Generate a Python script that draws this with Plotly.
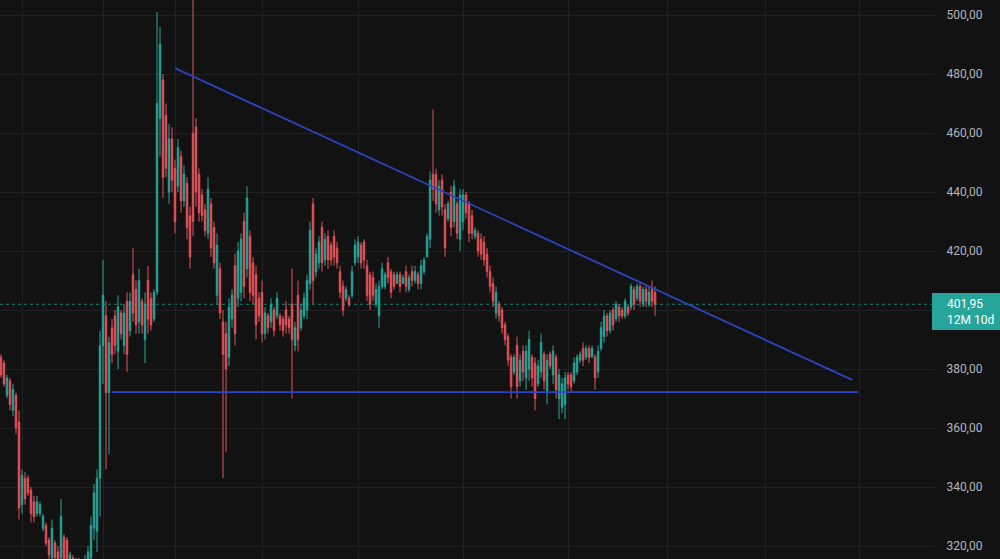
import plotly.graph_objects as go

# daily candles (left to right)
opens = [
    384, 382, 371, 376, 366, 371, 362, 334, 343, 343, 339, 335, 331, 331, 326, 327, 322, 316, 321, 318,
    316, 323, 322, 312, 316, 310, 315, 308, 311, 313, 316, 326, 325, 343, 388, 398, 372, 394, 398, 386,
    399, 388, 403, 393, 412, 407, 396, 403, 390, 410, 404, 397, 406, 465, 478, 466, 440, 458, 448, 442,
    452, 437, 443, 432, 460, 462, 446, 439, 434, 426, 436, 428, 405, 414, 396, 392, 384, 397, 415, 404,
    406, 430, 414, 425, 416, 412, 404, 406, 392, 398, 396, 400, 398, 398, 397, 400, 397, 402, 388, 405,
    394, 398, 400, 409, 436, 413, 416, 428, 417, 425, 422, 425, 421, 413, 408, 404, 404, 405, 416, 418,
    422, 423, 415, 412, 411, 402, 398, 408, 408, 416, 413, 412, 409, 412, 409, 413, 407, 413, 410, 412,
    409, 413, 418, 424, 446, 446, 434, 444, 434, 431, 440, 430, 436, 424, 430, 439, 436, 432, 425, 426,
    424, 423, 419, 413, 409, 399, 402, 400, 395, 391, 384, 379, 388, 376, 386, 377, 380, 384, 382, 375,
    379, 385, 372, 385, 378, 384, 370, 367, 368, 378, 378, 376, 379, 383, 387, 384, 387, 384, 384, 379,
    387, 391, 398, 393, 400, 397, 401, 400, 398, 401, 401, 407, 404, 408, 402, 407, 402, 407, 406,
]
highs = [
    385, 383, 378, 377, 375, 372, 366, 346, 345, 344, 340, 337, 337, 335, 331, 328, 323, 329, 322, 320,
    336, 324, 323, 318, 317, 316, 316, 314, 317, 320, 330, 341, 346, 393, 417, 403, 391, 397, 400, 405,
    400, 402, 406, 406, 421, 410, 414, 404, 406, 415, 406, 407, 501, 496, 480, 470, 463, 462, 451, 458,
    454, 449, 445, 435, 506, 465, 448, 441, 436, 445, 438, 430, 426, 416, 400, 396, 404, 407, 419, 423,
    426, 433, 442, 427, 418, 415, 406, 410, 401, 399, 404, 401, 406, 399, 398, 403, 398, 414, 396, 410,
    402, 406, 412, 430, 438, 421, 425, 430, 426, 427, 423, 427, 423, 415, 410, 408, 405, 415, 424, 425,
    423, 424, 417, 413, 413, 409, 410, 416, 413, 418, 414, 413, 413, 413, 412, 415, 412, 415, 415, 413,
    417, 418, 426, 447, 468, 448, 444, 446, 436, 437, 442, 444, 437, 441, 441, 440, 437, 434, 428, 427,
    426, 425, 421, 415, 411, 408, 403, 401, 396, 392, 385, 385, 391, 385, 388, 388, 393, 385, 384, 383,
    392, 386, 385, 386, 388, 385, 380, 377, 379, 379, 379, 384, 385, 386, 389, 388, 388, 388, 385, 388,
    396, 400, 399, 400, 401, 403, 402, 401, 404, 402, 409, 408, 409, 409, 408, 408, 408, 410, 408,
]
lows = [
    377, 374, 370, 366, 364, 358, 329, 331, 334, 337, 328, 328, 330, 330, 325, 320, 315, 314, 314, 312,
    314, 312, 313, 310, 309, 308, 308, 306, 308, 310, 314, 322, 318, 330, 375, 346, 351, 382, 385, 380,
    390, 385, 379, 391, 396, 392, 392, 392, 382, 392, 393, 396, 405, 452, 438, 445, 436, 440, 426, 440,
    433, 435, 424, 414, 425, 435, 430, 430, 425, 424, 418, 414, 402, 397, 343, 352, 381, 394, 388, 401,
    403, 404, 411, 403, 402, 390, 396, 389, 390, 392, 394, 391, 397, 393, 391, 392, 392, 370, 386, 386,
    393, 397, 397, 407, 402, 411, 414, 413, 415, 414, 415, 415, 414, 404, 398, 403, 401, 404, 415, 416,
    414, 414, 403, 400, 403, 401, 394, 407, 407, 409, 404, 407, 409, 406, 409, 406, 406, 408, 409, 407,
    407, 412, 418, 421, 437, 433, 432, 432, 418, 430, 425, 428, 424, 420, 427, 431, 423, 424, 424, 418,
    417, 415, 411, 406, 401, 397, 396, 392, 388, 381, 370, 378, 370, 374, 376, 373, 376, 374, 366, 374,
    377, 373, 368, 380, 375, 370, 363, 365, 363, 373, 372, 375, 378, 382, 381, 383, 382, 384, 373, 377,
    386, 389, 391, 392, 393, 396, 396, 397, 397, 398, 400, 400, 403, 401, 401, 401, 401, 401, 398,
]
closes = [
    378, 375, 377, 368, 373, 360, 333, 344, 336, 338, 331, 330, 335, 334, 330, 321, 317, 326, 316, 314,
    330, 315, 314, 317, 311, 314, 310, 312, 315, 318, 327, 338, 343, 388, 405, 372, 389, 385, 388, 401,
    392, 399, 385, 403, 399, 395, 410, 395, 402, 397, 395, 406, 470, 490, 445, 448, 458, 444, 430, 455,
    437, 446, 428, 418, 430, 440, 433, 432, 427, 441, 421, 416, 422, 399, 385, 380, 401, 405, 392, 420,
    424, 408, 438, 406, 405, 395, 398, 392, 399, 394, 402, 393, 404, 395, 393, 395, 394, 390, 394, 390,
    400, 404, 410, 427, 410, 419, 423, 416, 424, 417, 417, 418, 416, 406, 400, 407, 402, 413, 422, 423,
    416, 417, 405, 402, 405, 407, 408, 414, 412, 411, 406, 408, 412, 408, 411, 408, 411, 410, 413, 409,
    415, 417, 425, 444, 441, 436, 442, 435, 421, 436, 428, 442, 426, 439, 439, 433, 426, 426, 427, 420,
    419, 417, 413, 408, 403, 406, 398, 394, 390, 383, 374, 384, 374, 383, 379, 386, 390, 377, 370, 381,
    389, 376, 383, 381, 386, 373, 378, 375, 377, 375, 374, 382, 384, 385, 383, 387, 384, 387, 377, 386,
    394, 398, 393, 399, 395, 402, 398, 398, 403, 399, 408, 402, 408, 403, 407, 403, 406, 403, 401.95,
]
bars = list(range(len(closes)))

# drawn trend lines: (bar, price) end points
resistance_bars = [58, 283.7]
resistance_prices = [482.0, 376.3]
support_bars = [37, 285.7]
support_prices = [372.2, 372.2]

last_price = 401.95
last_label = "401,95<br>12M 10d"

price_ticks = [320, 340, 360, 380, 400, 420, 440, 460, 480, 500]
price_tick_text = ["320,00", "340,00", "360,00", "380,00", "400,00",
                   "420,00", "440,00", "460,00", "480,00", "500,00"]
time_grid = [7.3, 34, 58, 87, 119.3, 154.3, 189, 222, 254.7, 286.3]

BG = "#121212"
GRID = "#212121"
UP = "#26a69a"
DOWN = "#e5535a"
LINE = "#2b45c2"

fig = go.Figure()
fig.add_trace(go.Candlestick(
    x=bars, open=opens, high=highs, low=lows, close=closes,
    increasing={"line": {"color": UP, "width": 1}, "fillcolor": UP},
    decreasing={"line": {"color": DOWN, "width": 1}, "fillcolor": DOWN},
    whiskerwidth=0, showlegend=False, hoverinfo="skip",
))
fig.add_trace(go.Scatter(
    x=resistance_bars, y=resistance_prices, mode="lines",
    line={"color": LINE, "width": 1.8}, showlegend=False, hoverinfo="skip",
))
fig.add_trace(go.Scatter(
    x=support_bars, y=support_prices, mode="lines",
    line={"color": LINE, "width": 1.8}, showlegend=False, hoverinfo="skip",
))

shapes = [
    {"type": "line", "xref": "paper", "yref": "y", "x0": 0, "x1": 1,
     "y0": last_price, "y1": last_price,
     "line": {"color": "#1f7f74", "width": 1, "dash": "dot"}, "layer": "below"},
    {"type": "rect", "xref": "paper", "yref": "y", "x0": 0.9968, "x1": 1.07,
     "y0": 393.2, "y1": 405.8, "fillcolor": UP, "line": {"width": 0}},
]

fig.update_layout(
    width=1000, height=559,
    paper_bgcolor=BG, plot_bgcolor=BG,
    margin={"l": 0, "r": 65, "t": 0, "b": 0},
    shapes=shapes,
    font={"family": "Roboto, Liberation Sans, sans-serif", "color": "#b2b5be", "size": 12},
    xaxis={
        "range": [-0.33, 311.3], "rangeslider": {"visible": False},
        "tickvals": time_grid, "showticklabels": False, "ticks": "",
        "showgrid": True, "gridcolor": GRID, "gridwidth": 1,
        "zeroline": False, "showline": False,
    },
    yaxis={
        "side": "right", "range": [315.6, 505.1],
        "tickvals": price_ticks, "ticktext": price_tick_text,
        "ticks": "outside", "ticklen": 8, "tickcolor": BG,
        "showgrid": True, "gridcolor": GRID, "gridwidth": 1,
        "zeroline": False, "showline": False,
    },
    annotations=[
        {"xref": "paper", "yref": "y", "x": 1.0107, "y": 399.2, "text": last_label,
         "showarrow": False, "xanchor": "left", "yanchor": "middle", "align": "left",
         "font": {"color": "#ffffff", "size": 12}},
    ],
)

fig.write_html(
    "out.html",
    config={"displayModeBar": False},
    post_script="document.body.style.margin='0';document.body.style.overflow='hidden';",
)
